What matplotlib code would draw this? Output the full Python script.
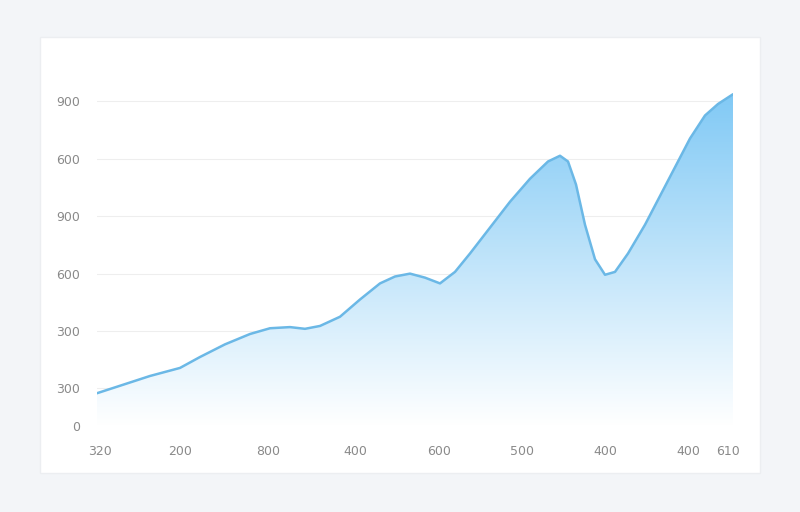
import numpy as np
import matplotlib
matplotlib.use("Agg")
import matplotlib.pyplot as plt
from matplotlib.patches import Rectangle

# curve (x in chart units, y in chart units)
xs = [97, 120, 150, 180, 200, 225, 250, 270, 290, 305, 320, 340, 360, 380, 395, 410, 425, 440,
      455, 470, 490, 510, 530, 548, 560, 568, 576, 585, 595, 605, 615, 628, 645, 660, 675,
      690, 705, 718, 733]
ys = [57, 70, 87, 101, 120, 142, 160, 170, 172, 169, 174, 190, 220, 248, 260, 265, 258, 248,
      268, 300, 345, 390, 430, 460, 470, 460, 420, 350, 290, 263, 268, 300, 350, 400, 450,
      500, 540, 560, 577]

y_ticks = [0, 66, 165, 264, 365, 464, 565]
y_labels = ["0", "300", "300", "600", "900", "600", "900"]
x_ticks = [100, 180, 268, 355, 439, 522, 605, 688, 728]
x_labels = ["320", "200", "800", "400", "600", "500", "400", "400", "610"]

fig = plt.figure(figsize=(8, 5.12), dpi=100)
fig.patch.set_facecolor("#f3f5f8")
card = Rectangle((40 / 800, 1 - 473 / 512), 720 / 800, 436 / 512,
                 transform=fig.transFigure, facecolor="white",
                 edgecolor="#eceef1", lw=1, zorder=-10)
fig.add_artist(card)

ax = fig.add_axes([97 / 800, (512 - 426) / 512, 636 / 800, 590 * 0.575 / 512])
ax.set_zorder(5)
ax.set_facecolor("none")
ax.set_xlim(97, 733)
ax.set_ylim(0, 590)

# gradient fill under the curve
grad = np.linspace(0, 1, 256).reshape(-1, 1)
cmap = matplotlib.colors.LinearSegmentedColormap.from_list("g", ["#ffffff", "#7ec8f5"])
img = ax.imshow(grad, extent=[97, 733, 0, 590], origin="lower", aspect="auto",
                cmap=cmap, vmin=0, vmax=1, zorder=1)
clip = plt.Polygon(np.column_stack([xs + [733, 97], ys + [0, 0]]), transform=ax.transData)
img.set_clip_path(clip)
ax.plot(xs, ys, color="#6bb8e6", lw=1.8, zorder=3, solid_capstyle="round")

for t in y_ticks:
    ax.axhline(t, color="#eeeeee", lw=0.8, zorder=0.5)
ax.set_yticks(y_ticks)
ax.set_yticklabels(y_labels)
ax.set_xticks(x_ticks)
ax.set_xticklabels(x_labels)
ax.tick_params(length=0, colors="#8a8a8a", labelsize=9)
ax.tick_params(axis="y", pad=12)
ax.tick_params(axis="x", pad=14)
for s in ax.spines.values():
    s.set_visible(False)

fig.savefig("out.png", dpi=100, facecolor=fig.get_facecolor())
